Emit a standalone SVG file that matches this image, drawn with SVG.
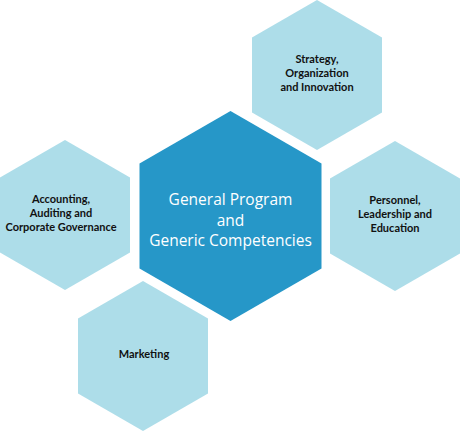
<svg xmlns="http://www.w3.org/2000/svg" width="460" height="431" viewBox="0 0 460 431">
<style>
.hex-light{fill:#addde9;}
.hex-dark{fill:#2697c8;}
.lbl{font-family:Lato,"Open Sans","Liberation Sans",sans-serif;font-weight:700;font-size:11px;fill:#111;text-anchor:middle;}
.main{font-family:"Open Sans","Liberation Sans",sans-serif;font-size:15.5px;fill:#ffffff;text-anchor:middle;}
</style>
<rect width="460" height="431" fill="#ffffff"/>
<g id="connectors"/>
<g id="node-strategy">
<polygon class="hex-light" points="317,0 382,37.5 382,112.5 317,150 252,112.5 252,37.5"/>
<text class="lbl" x="317" y="63">Strategy,</text>
<text class="lbl" x="317" y="77">Organization</text>
<text class="lbl" x="317" y="91">and Innovation</text>
</g>
<g id="node-accounting">
<polygon class="hex-light" points="65,140 130,177.5 130,252.5 65,290 0,252.5 0,177.5"/>
<text class="lbl" x="61" y="203">Accounting,</text>
<text class="lbl" x="61" y="217">Auditing and</text>
<text class="lbl" x="61" y="231">Corporate Governance</text>
</g>
<g id="node-personnel">
<polygon class="hex-light" points="395,141 460,178.5 460,253.5 395,291 330,253.5 330,178.5"/>
<text class="lbl" x="395" y="204">Personnel,</text>
<text class="lbl" x="395" y="218">Leadership and</text>
<text class="lbl" x="395" y="232">Education</text>
</g>
<g id="node-marketing">
<polygon class="hex-light" points="143,281 208,318.5 208,393.5 143,431 78,393.5 78,318.5"/>
<text class="lbl" x="144" y="358">Marketing</text>
</g>
<g id="node-general">
<polygon class="hex-dark" points="230.5,111 321.5,163.5 321.5,268.5 230.5,321 139.5,268.5 139.5,163.5"/>
<text class="main" x="230.5" y="205">General Program</text>
<text class="main" x="230.5" y="225.5">and</text>
<text class="main" x="230.5" y="246">Generic Competencies</text>
</g>
</svg>
